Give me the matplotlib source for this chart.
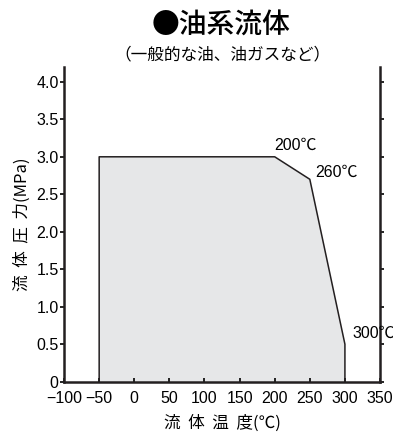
import matplotlib
matplotlib.use("Agg")
import matplotlib.pyplot as plt

plt.rcParams['font.family'] = ['Liberation Sans', 'Noto Sans CJK JP', 'DejaVu Sans']

# boundary of the usable region (temperature degC, pressure MPa)
temp = [-50, -50, 200, 250, 300, 300]
press = [0, 3.0, 3.0, 2.7, 0.5, 0]

xticks = [-100, -50, 0, 50, 100, 150, 200, 250, 300, 350]
yticks = [0, 0.5, 1.0, 1.5, 2.0, 2.5, 3.0, 3.5, 4.0]
ytick_labels = ['0', '0.5', '1.0', '1.5', '2.0', '2.5', '3.0', '3.5', '4.0']

point_labels = ['200℃', '260℃', '300℃']
label_pos = [(200, 3.05), (258, 2.79), (311, 0.64)]

fig = plt.figure(figsize=(3.93, 4.34), dpi=100)
ax = fig.add_axes([0.163, 0.1205, 0.804, 0.7255])

ax.fill(temp, press, facecolor='#e6e7e8', edgecolor='none')
ax.plot(temp, press, color='#231f20', lw=1.1)

ax.set_xlim(-100, 350)
ax.set_ylim(0, 4.2)
ax.spines['top'].set_visible(False)
for s in ['left', 'bottom', 'right']:
    ax.spines[s].set_linewidth(1.8)
    ax.spines[s].set_color('#231f20')

ax.set_xticks(xticks)
ax.set_yticks(yticks)
ax.set_yticklabels(ytick_labels)
ax.tick_params(axis='x', direction='in', length=3, width=1.2, labelsize=11.5, pad=7)
ax.tick_params(axis='y', direction='out', length=3, width=1.2, labelsize=11.5, pad=1,
               right=True)

for txt, (x, y) in zip(point_labels, label_pos):
    ax.text(x, y, txt, fontsize=11.5, family=['Liberation Sans', 'Noto Sans CJK JP'],
            va='bottom' if txt == '200℃' else 'center', ha='left', clip_on=False)

ax.set_ylabel('流  体  圧  力(MPa)', fontsize=12,
              family=['Noto Sans CJK JP', 'Liberation Sans'], labelpad=4)
fig.text(0.566, 0.025, '流  体  温  度(℃)', ha='center', va='center', fontsize=12,
         family=['Noto Sans CJK JP'])

fig.text(0.562, 0.942, '●油系流体', ha='center', va='center', fontsize=20,
         fontweight='medium', family=['Noto Sans CJK JP'])
fig.text(0.566, 0.873, '（一般的な油、油ガスなど）', ha='center', va='center', fontsize=12,
         family=['Noto Sans CJK JP'])

fig.savefig('out.png', dpi=100)
